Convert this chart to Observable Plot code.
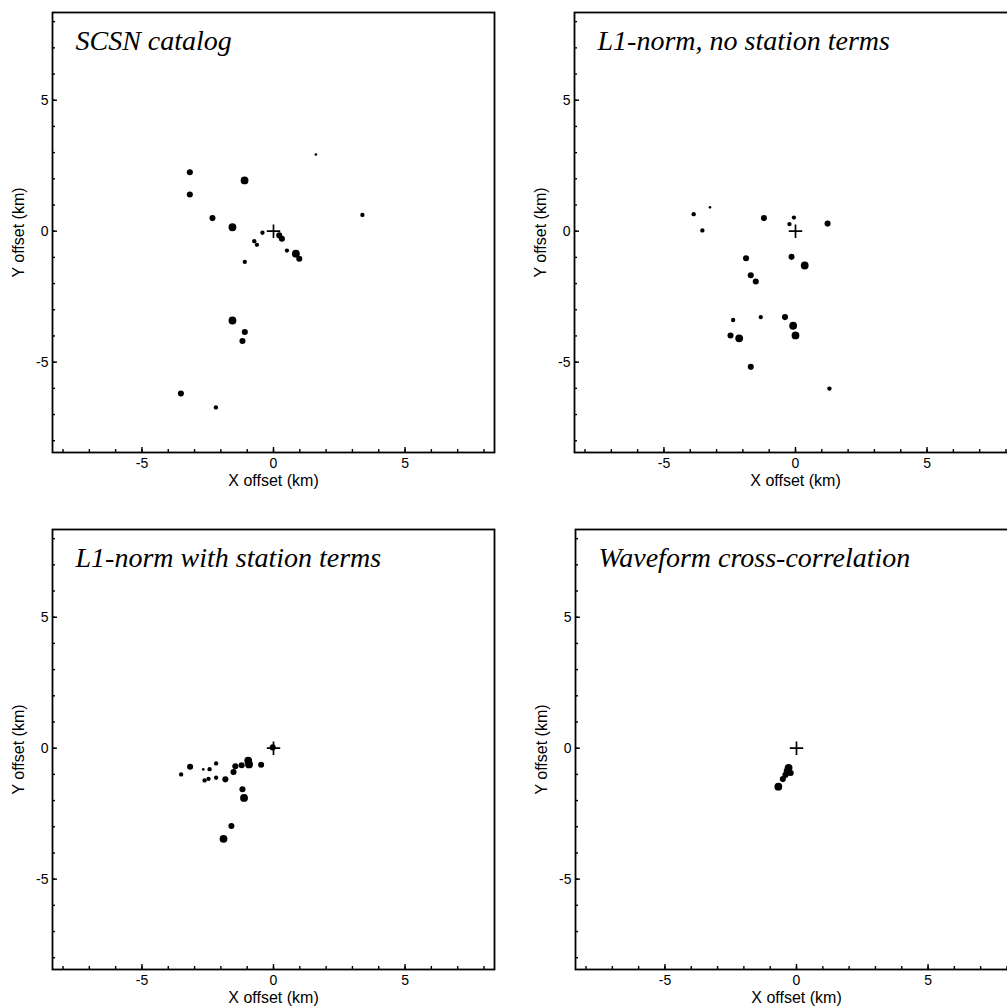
<!DOCTYPE html>
<html><head><meta charset="utf-8">
<script src="https://cdn.jsdelivr.net/npm/d3@7"></script>
<script src="https://cdn.jsdelivr.net/npm/@observablehq/plot@0.6"></script>
<style>
html,body{margin:0;padding:0;background:#fff;overflow:hidden;}
#wrap{position:relative;width:1007px;height:1007px;overflow:hidden;background:#fff;}
.panel{position:absolute;width:510px;height:500px;}
.panel svg{max-width:none !important;}
</style></head><body><div id="wrap"></div>
<script>
// ---- data ----
const titles = ["SCSN catalog", "L1-norm, no station terms", "L1-norm with station terms", "Waveform cross-correlation"];
const xLabel = "X offset (km)";
const yLabel = "Y offset (km)";
const majorTicks = [-5, 0, 5];
const minorTicks = [-8, -7, -6, -5, -4, -3, -2, -1, 0, 1, 2, 3, 4, 5, 6, 7, 8];
const refX = [0];
const refY = [0];

// size class: 1 tiny, 2 small, 3 medium, 4 large
const catalogX = [1.61, -3.18, -1.10, -3.18, 3.38, -2.32, -1.56, -0.42, -0.73, -0.63, 0.22, 0.32, 0.51, 0.85, 0.98, -1.09, -1.56, -1.09, -1.18, -3.52, -2.19];
const catalogY = [2.93, 2.25, 1.94, 1.40, 0.62, 0.50, 0.15, -0.06, -0.38, -0.52, -0.16, -0.29, -0.74, -0.86, -1.05, -1.17, -3.41, -3.85, -4.19, -6.20, -6.73];
const catalogS = [1, 3, 4, 3, 2, 3, 4, 2, 2, 2, 3, 3, 2, 4, 3, 2, 4, 3, 3, 3, 2];

const noStaX = [-3.87, -3.25, -3.54, -1.20, -0.06, -0.23, 1.22, -1.88, -0.15, 0.35, -1.70, -1.51, -2.37, -1.32, -0.40, -0.09, -2.47, -2.14, 0.00, -1.70, 1.29];
const noStaY = [0.65, 0.91, 0.03, 0.50, 0.52, 0.27, 0.29, -1.03, -0.98, -1.31, -1.68, -1.92, -3.39, -3.28, -3.28, -3.61, -3.98, -4.09, -3.98, -5.18, -6.01];
const noStaS = [2, 1, 2, 3, 2, 2, 3, 3, 3, 4, 3, 3, 2, 2, 3, 4, 3, 4, 4, 3, 2];

const staX = [-3.51, -3.17, -2.67, -2.43, -2.18, -2.62, -2.47, -2.18, -1.83, -1.52, -1.45, -1.21, -0.96, -0.93, -0.47, -0.03, -1.18, -1.12, -1.60, -1.90];
const staY = [-1.00, -0.71, -0.81, -0.80, -0.58, -1.23, -1.17, -1.13, -1.19, -0.91, -0.69, -0.65, -0.48, -0.62, -0.63, 0.03, -1.57, -1.90, -2.97, -3.46];
const staS = [2, 3, 1, 2, 2, 2, 2, 2, 3, 3, 3, 3, 4, 4, 3, 3, 3, 4, 3, 4];

const xcorX = [-0.69, -0.52, -0.42, -0.37, -0.30, -0.22, -0.34];
const xcorY = [-1.47, -1.18, -1.02, -0.86, -0.75, -0.95, -0.95];
const xcorS = [4, 3, 3, 3, 4, 3, 3];

// ---- drawing ----
const sans = "Liberation Sans, Arial, Helvetica, sans-serif";
const serif = "Liberation Serif, Times New Roman, serif";

function panel(xs, ys, ss, title) {
  const pts = xs.map((x, i) => ({x, y: ys[i], s: ss[i]}));
  const ref = refX.map((x, i) => ({x, y: refY[i]}));
  return Plot.plot({
    width: 510, height: 500,
    marginTop: 12, marginLeft: 52, marginRight: 16, marginBottom: 48,
    style: {background: "#fff", fontFamily: sans, fontSize: "14px", overflow: "visible", maxWidth: "none"},
    x: {domain: [-8.4, 8.4]},
    y: {domain: [-8.45, 8.35]},
    r: {type: "linear", domain: [1, 4], range: [1.3, 3.9]},
    marks: [
      Plot.axisX(minorTicks, {anchor: "bottom", tickSize: -3, text: null, label: null, strokeWidth: 1.4}),
      Plot.axisX(majorTicks, {anchor: "bottom", tickSize: -5, tickPadding: 11, tickFormat: d => String(d), label: null, strokeWidth: 1.4, fontSize: 14}),
      Plot.axisY(minorTicks, {anchor: "left", tickSize: -3, text: null, label: null, strokeWidth: 1.4}),
      Plot.axisY(majorTicks, {anchor: "left", tickSize: -5, tickPadding: 9, tickFormat: d => String(d), label: null, strokeWidth: 1.4, fontSize: 14}),
      Plot.frame({strokeWidth: 1.8}),
      Plot.dot(pts, {x: "x", y: "y", r: "s", fill: "black", stroke: "none"}),
      Plot.dot(ref, {x: "x", y: "y", symbol: "plus", r: 4.4, stroke: "black", strokeWidth: 1.7, fill: "none"}),
      Plot.text([title], {text: d => d, frameAnchor: "top-left", dx: 23, dy: 37, textAnchor: "start", lineAnchor: "bottom", fontFamily: serif, fontStyle: "italic", fontSize: 28, fill: "black"}),
      Plot.text([xLabel], {text: d => d, frameAnchor: "bottom", dy: 33, lineAnchor: "bottom", fontSize: 16, fill: "black"}),
      Plot.text([yLabel], {text: d => d, frameAnchor: "left", dx: -34, rotate: -90, textAnchor: "middle", lineAnchor: "middle", fontSize: 16, fill: "black"})
    ]
  });
}

const wrap = document.getElementById("wrap");
const specs = [
  [catalogX, catalogY, catalogS, titles[0], 0, 0],
  [noStaX, noStaY, noStaS, titles[1], 522, 0],
  [staX, staY, staS, titles[2], 0, 517],
  [xcorX, xcorY, xcorS, titles[3], 523, 517]
];
for (const [xs, ys, ss, t, left, top] of specs) {
  const div = document.createElement("div");
  div.className = "panel";
  div.style.left = left + "px";
  div.style.top = top + "px";
  div.appendChild(panel(xs, ys, ss, t));
  wrap.appendChild(div);
}
</script>
</body></html>
